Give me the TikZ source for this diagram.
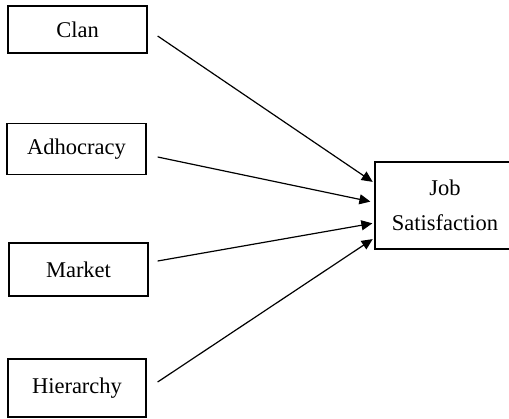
\documentclass[tikz,border=0pt]{standalone}
\usepackage{fontspec}
\setmainfont{Liberation Serif}
\usepackage{tikz}
\usetikzlibrary{arrows.meta}

\begin{document}
\begin{tikzpicture}[
            x = 1pt, y = -1pt, % pixel grid, y downwards
            > = {Triangle[length=11pt, width=10pt]}, % arrow head style
            shorten > = 2pt, % don't touch arrow head to node
            line width = 1.2pt % line style
        ]
        \tikzstyle{box}=[
            draw = black,
            line width = 1.3pt,
            fill = white,
            inner sep = 0pt,
            font = \fontsize{22.5}{35}\selectfont,
            align = center
        ]
        \useasboundingbox (0,0) rectangle (509,418);
        \node[box, minimum width = 139pt, minimum height = 47pt] (clan) at (77.5,29.5) {Clan};
        \node[box, minimum width = 139pt, minimum height = 51pt] (adhocracy) at (76.5,149) {Adhocracy};
        \node[box, minimum width = 139pt, minimum height = 53pt] (market) at (78.5,269.5) {Market};
        \node[box, minimum width = 138pt, minimum height = 58pt] (hierarchy) at (77,388) {Hierarchy};
        \node[box, minimum width = 140pt, minimum height = 87pt] (job) at (445,205.5) {Job\\Satisfaction};

        \draw[->] ([xshift=10pt, yshift=-6.5pt]clan.east) -- ([yshift=22.5pt]job.west);
        \draw[->] ([xshift=11pt, yshift=-8pt]adhocracy.east) -- ([xshift=-2pt, yshift=3.5pt]job.west);
        \draw[->] ([xshift=9pt, yshift=8.5pt]market.east) -- ([yshift=-17.5pt]job.west);
        \draw[->] ([xshift=11pt, yshift=6pt]hierarchy.east) -- ([yshift=-32.5pt]job.west);
    \end{tikzpicture}
\end{document}
